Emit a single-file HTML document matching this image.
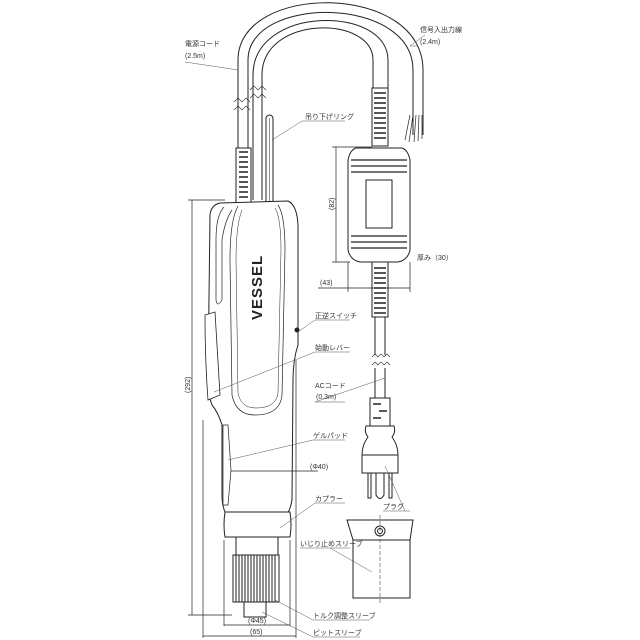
<!DOCTYPE html>
<html><head><meta charset="utf-8"><style>
html,body{margin:0;padding:0;background:#fff}
svg{display:block}
text{font-family:"Liberation Sans","Noto Sans CJK JP",sans-serif;font-size:7px;fill:#333}
</style></head><body>
<svg width="640" height="640" viewBox="0 0 640 640" xmlns="http://www.w3.org/2000/svg">
<g fill="none" stroke="#222" stroke-width="1">
<!-- cords -->
<path d="M238 148 L238 60 C238 -18 423 -18 423 70 L423 135"/>
<path d="M248 148 L248 60 C248 -5 413 -5 413 70 L413 135"/>
<path d="M253 200 L253 75 C253 5 388 5 388 60 L388 90"/>
<path d="M262 200 L262 75 C262 15 373 15 373 60 L373 90"/>
<path d="M410 115 L405 140 M413 115 L409 142 M416 115 L414 142 M419 115 L418 141 M422 115 L422 139" stroke-width="0.7"/>
<path d="M234 102 l4 -4 l4 4 l4 -4 l4 4 M234 110 l4 -4 l4 4 l4 -4 l4 4 M250 90 l4 -4 l4 4 l4 -4 l4 4 M250 98 l4 -4 l4 4 l4 -4 l4 4" stroke-width="0.6"/>
<rect x="236" y="148" width="15" height="55" fill="#fff"/>
<path d="M239 152h9M239 157h9M239 162h9M239 167h9M239 172h9M239 177h9M239 182h9M239 187h9M239 192h9M239 197h9" stroke-width="1.5"/>
<rect x="266" y="115" width="7" height="92" rx="3.5" fill="#fff"/>
<line x1="269.5" y1="118" x2="269.5" y2="205" stroke-width="0.5"/>
<!-- body -->
<path d="M220 203 L288 201 Q297 205 298 225 L298 345 Q293 360 293 380 L292 500 Q290 510 288 512 L225 512 Q222 505 222 495 L222 425 Q218 412 212 405 Q208 395 208 380 L210 215 Q211 205 220 203 Z" fill="#fff"/>
<path d="M224 207 Q216 215 216 240 L216 300 Q217 308 222 300 L222 240 Q225 220 232 210" stroke-width="0.7"/>
<path d="M238 206 Q230 220 230 260 L232 395 Q236 415 255 415 Q280 415 282 395 L285 250 Q285 215 278 205" stroke-width="0.7"/>
<path d="M242 210 Q236 225 236 260 L238 393 Q241 408 256 408 Q276 408 278 393 L281 250 Q281 218 275 208" stroke-width="0.5"/>
<path d="M205 315 L215 312 L220 395 L208 400 Q205 360 205 315 Z" fill="#fff" stroke-width="0.8"/>
<path d="M223 425 L228 425 L231 470 L228 505 L223 505 Z" stroke-width="0.7"/>
<circle cx="297" cy="330" r="2" fill="#222"/>
<path d="M225 512 L290 512 Q292 525 290 537 L225 537 Q223 525 225 512 Z" fill="#fff"/>
<rect x="236" y="537" width="42" height="18"/>
<rect x="233" y="555" width="46" height="47" fill="#fff"/>
<path d="M236 555v47M239 555v47M242 555v47M245 555v47M248 555v47M251 555v47M254 555v47M257 555v47M260 555v47M263 555v47M266 555v47M269 555v47M272 555v47M275 555v47" stroke-width="1"/>
<rect x="244" y="602" width="22" height="15" fill="#fff"/>
<!-- controller box -->
<rect x="372" y="88" width="16" height="58" fill="#fff"/>
<path d="M374 93h12M374 98h12M374 103h12M374 108h12M374 113h12M374 118h12M374 123h12M374 128h12M374 133h12M374 138h12" stroke-width="1.5"/>
<path d="M356 148 Q350 150 348 160 L348 250 Q350 260 360 262 L398 262 Q408 260 410 250 L410 160 Q408 150 402 148 Z" fill="#fff"/>
<path d="M351 160h56M351 166h56M351 172h56M351 236h56M351 242h56M351 248h56" stroke-width="1.2"/>
<rect x="366" y="180" width="26" height="48"/>
<rect x="372" y="262" width="16" height="55" fill="#fff"/>
<path d="M374 268h12M374 273h12M374 278h12M374 283h12M374 288h12M374 293h12M374 298h12M374 303h12M374 308h12M374 313h12" stroke-width="1.5"/>
<path d="M375 317 L375 355 M385 317 L385 355 M375 368 L375 400 M385 368 L385 400"/>
<path d="M372 357 l3 -3 l3 3 l3 -3 l3 3 l3 -3 l3 3 M372 365 l3 -3 l3 3 l3 -3 l3 3 l3 -3 l3 3" stroke-width="0.6"/>
<rect x="370" y="398" width="20" height="28" fill="#fff"/>
<path d="M373 404h8M379 411h8M373 418h8" stroke-width="1.5"/>
<path d="M366 426 L394 426 Q396 432 392 437 Q398 445 398 455 L362 455 Q362 445 368 437 Q364 432 366 426 Z" fill="#fff"/>
<rect x="362" y="455" width="36" height="18" fill="#fff"/>
<rect x="368" y="473" width="3" height="25"/><rect x="389" y="473" width="3" height="25"/>
<path d="M376 473 L376 495 Q380 502 384 495 L384 473"/>
<path d="M347 520 L413 520 L410 540 L410 598 L353 598 L353 540 Z" fill="#fff"/>
<line x1="353" y1="540" x2="410" y2="540"/>
<circle cx="380" cy="531" r="5"/><circle cx="380" cy="531" r="2.5"/>
<line x1="380" y1="515" x2="380" y2="605" stroke-dasharray="4 2" stroke-width="0.5"/>
</g>
<g stroke="#222" stroke-width="0.7" fill="none">
<line x1="192" y1="200" x2="192" y2="615"/><line x1="188" y1="200" x2="225" y2="200"/><line x1="188" y1="615" x2="232" y2="615"/>
<line x1="203" y1="420" x2="203" y2="638"/><line x1="296" y1="360" x2="296" y2="638"/>
<line x1="203" y1="636" x2="296" y2="636"/>
<line x1="224" y1="540" x2="224" y2="626"/><line x1="290" y1="540" x2="290" y2="626"/>
<line x1="224" y1="625" x2="290" y2="625"/>
<line x1="231" y1="471" x2="293" y2="471"/><line x1="293" y1="471" x2="318" y2="471"/>
<line x1="336" y1="147" x2="336" y2="262"/><line x1="332" y1="147" x2="372" y2="147"/><line x1="332" y1="262" x2="350" y2="262"/>
<line x1="348" y1="262" x2="348" y2="292"/><line x1="410" y1="262" x2="410" y2="292"/>
<line x1="318" y1="288" x2="410" y2="288"/>
</g>
<g stroke="#555" stroke-width="0.5" fill="none">
<path d="M185 62 L238 70"/><path d="M418 46 L410 46 L425 35"/>
<path d="M302 121 L345 121 M302 121 L272 140"/>
<path d="M315 320 L350 320 M315 320 L298 332"/>
<path d="M315 352 L350 352 M315 352 L214 392"/>
<path d="M315 402 L345 402 M315 402 L385 378"/>
<path d="M313 440 L345 440 M313 440 L228 460"/>
<path d="M315 503 L345 503 M315 503 L280 528"/>
<path d="M300 548 L350 548 M330 548 L372 572"/>
<path d="M383 511 L410 511 M405 511 L385 466"/>
<path d="M313 620 L370 620 M313 620 L275 600"/>
<path d="M313 637 L360 637 M313 637 L262 612"/>
</g>
<g>
<text x="185" y="46">電源コード</text><text x="185" y="58">(2.5m)</text>
<text x="420" y="32">信号入出力線</text><text x="420" y="44">(2.4m)</text>
<text x="305" y="119">吊り下げリング</text>
<text transform="translate(334 210) rotate(-90)">(82)</text>
<text x="417" y="260">厚み（30）</text>
<text x="320" y="285">(43)</text>
<text x="315" y="318">正逆スイッチ</text>
<text x="315" y="350">始動レバー</text>
<text x="315" y="388">ACコード</text><text x="316" y="399">(0.3m)</text>
<text x="313" y="438">ゲルパッド</text>
<text x="310" y="469">(Φ40)</text>
<text x="315" y="501">カプラー</text>
<text x="300" y="546">いじり止めスリーブ</text>
<text x="383" y="509">プラグ</text>
<text x="313" y="618">トルク調整スリーブ</text>
<text x="313" y="635">ビットスリーブ</text>
<text x="248" y="623">(Φ45)</text>
<text x="250" y="634">(65)</text>
<text transform="translate(190 393) rotate(-90)">(292)</text>
<text transform="translate(262 320) rotate(-90)" style="font-size:15px;font-weight:bold;fill:#222;letter-spacing:1px">VESSEL</text>
</g>
</svg>
</body></html>
